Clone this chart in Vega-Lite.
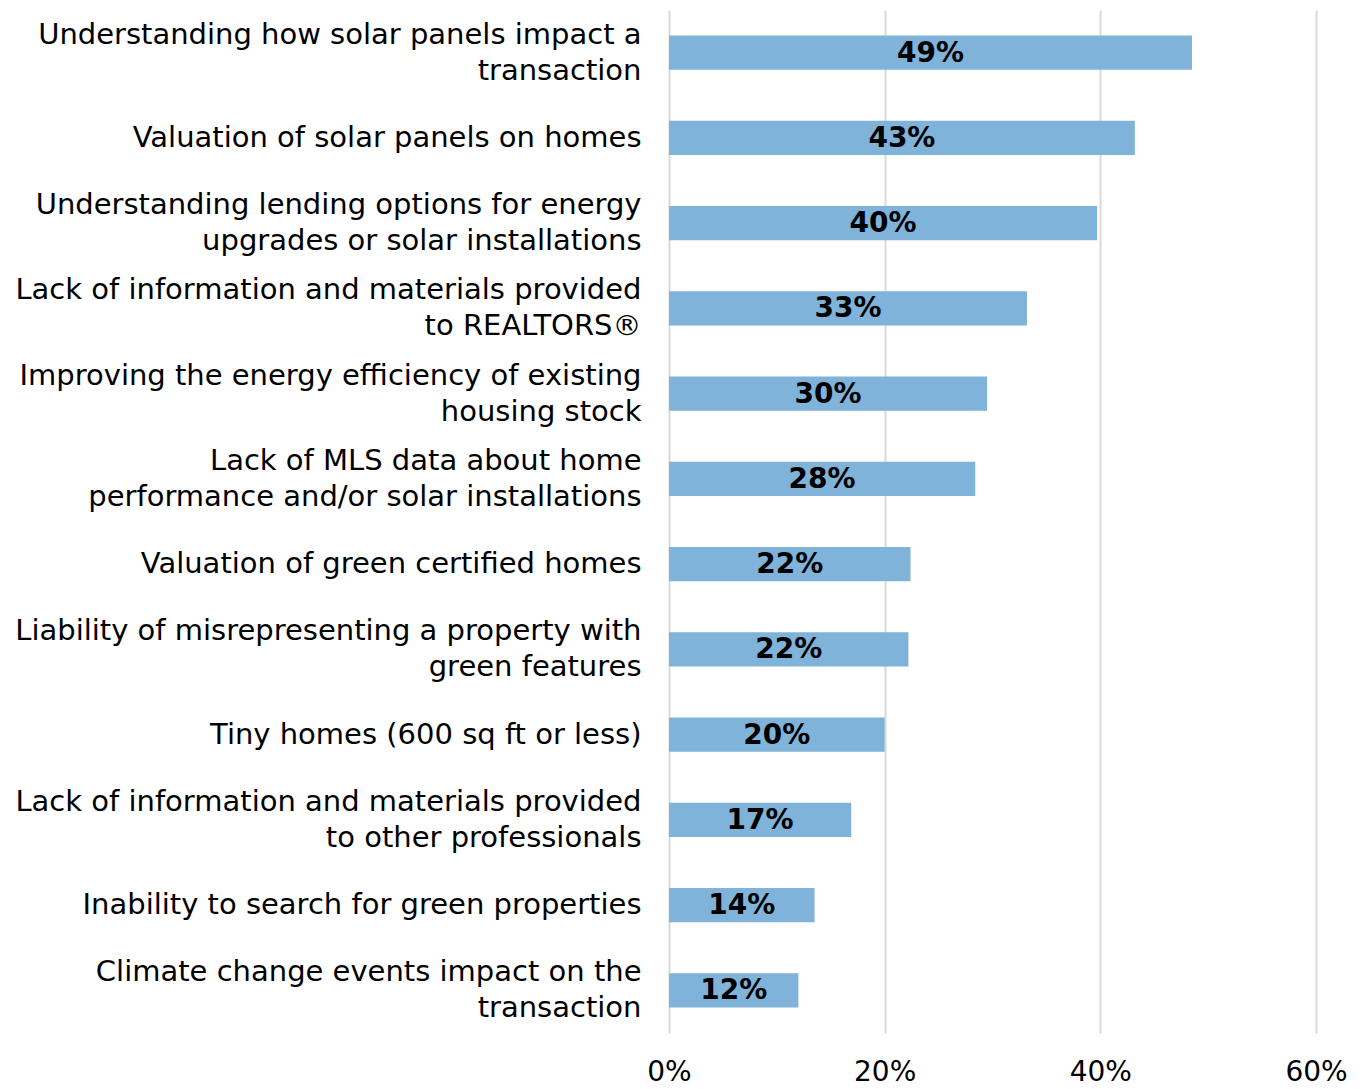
{
  "$schema": "https://vega.github.io/schema/vega-lite/v6.json",
  "autosize": "none",
  "width": 647,
  "height": 1023,
  "padding": {"left": 669, "top": 10, "right": 47, "bottom": 56},
  "background": "white",
  "config": {"view": {"stroke": null}, "font": "DejaVu Sans"},
  "data": {"values": [
    {"label": "Understanding how solar panels impact a\ntransaction", "value": 0.485},
    {"label": "Valuation of solar panels on homes", "value": 0.432},
    {"label": "Understanding lending options for energy\nupgrades or solar installations", "value": 0.397},
    {"label": "Lack of information and materials provided\nto REALTORS®", "value": 0.332},
    {"label": "Improving the energy efficiency of existing\nhousing stock", "value": 0.295},
    {"label": "Lack of MLS data about home\nperformance and/or solar installations", "value": 0.284},
    {"label": "Valuation of green certified homes", "value": 0.224},
    {"label": "Liability of misrepresenting a property with\ngreen features", "value": 0.222},
    {"label": "Tiny homes (600 sq ft or less)", "value": 0.2},
    {"label": "Lack of information and materials provided\nto other professionals", "value": 0.169},
    {"label": "Inability to search for green properties", "value": 0.135},
    {"label": "Climate change events impact on the\ntransaction", "value": 0.12}
  ]},
  "transform": [{"calculate": "datum.value / 2", "as": "mid"}],
  "encoding": {
    "y": {"field": "label", "type": "nominal", "sort": null,
      "scale": {"paddingInner": 0.6, "paddingOuter": 0.3},
      "axis": {"title": null, "domain": false, "ticks": false, "grid": false,
        "labelExpr": "split(datum.label, '\\n')", "labelFontSize": 29, "labelColor": "black",
        "labelLineHeight": 36, "labelPadding": 28, "labelLimit": 700, "labelFont": "DejaVu Sans",
        "labelOffset": {"condition": {"test": "indexof(datum.label, '\\n') >= 0", "value": -18}, "value": 0}}}
  },
  "layer": [
    {"mark": {"type": "bar", "color": "#7fb3d9"},
     "encoding": {"x": {"field": "value", "type": "quantitative",
        "scale": {"domain": [0, 0.6]},
        "axis": {"title": null, "format": ".0%", "values": [0, 0.2, 0.4, 0.6], "domain": false, "ticks": false,
          "grid": true, "gridColor": "#d9d9d9", "gridWidth": 2, "labelFlush": false,
          "labelFontSize": 28, "labelColor": "black", "labelPadding": 25, "labelFont": "DejaVu Sans"}}}},
    {"mark": {"type": "text", "fontSize": 28, "fontWeight": "bold", "color": "black", "font": "DejaVu Sans", "baseline": "middle", "align": "center", "dy": 1},
     "encoding": {"x": {"field": "mid", "type": "quantitative"},
       "text": {"field": "value", "type": "quantitative", "format": ".0%"}}}
  ]
}
